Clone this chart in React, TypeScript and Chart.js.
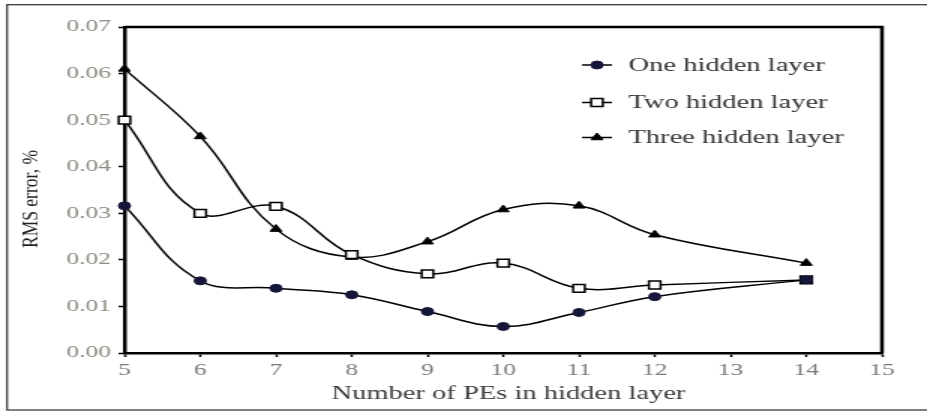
import React, { useEffect, useRef } from 'react';
import { Chart, registerables } from 'chart.js';
import { drawPoint } from 'chart.js/helpers';

Chart.register(...registerables);

// Number of processing elements in the hidden layer(s)
const peCounts = [5, 6, 7, 8, 9, 10, 11, 12, 14];

// RMS error (%) per network depth
const oneHidden = [0.0316, 0.0155, 0.0139, 0.0125, 0.0089, 0.0057, 0.0087, 0.0121, 0.0157];
const twoHidden = [0.05, 0.03, 0.0315, 0.0211, 0.017, 0.0193, 0.0139, 0.0146, 0.0157];
const threeHidden = [0.061, 0.0465, 0.0266, 0.0206, 0.0239, 0.0308, 0.0316, 0.0254, 0.0193];

const seriesNames = ['One hidden layer', 'Two hidden layer', 'Three hidden layer'];

const xTitle = 'Number of PEs in hidden layer';
const yTitle = 'RMS error, %';

// The drawing surface is rendered narrower and stretched to the page width.
const CANVAS_W = 618;
const CANVAS_H = 412;
const SHOWN_W = 927;

const SERIF = '"Liberation Serif", "Times New Roman", serif';

const toPoints = (ys: number[]) => peCounts.map((x, i) => ({ x, y: ys[i] }));

const decorations = {
  id: 'decorations',
  afterDraw(chart: any) {
    const { ctx, chartArea: a } = chart;
    ctx.save();

    // outer frame
    ctx.strokeStyle = '#3c3c3c';
    ctx.lineWidth = 1.3;
    ctx.strokeRect(4.7, 4.7, 700, 405.3);

    // top and right edges of the plot box
    ctx.strokeStyle = '#000';
    ctx.lineWidth = 2.5;
    ctx.beginPath();
    ctx.moveTo(a.left, a.top);
    ctx.lineTo(a.right, a.top);
    ctx.lineTo(a.right, a.bottom);
    ctx.stroke();

    // legend inside the plot
    const rows = [65, 102.5, 137.5];
    chart.data.datasets.forEach((ds: any, i: number) => {
      const y = rows[i];
      ctx.strokeStyle = '#000';
      ctx.lineWidth = 1.5;
      ctx.beginPath();
      ctx.moveTo(388, y);
      ctx.lineTo(408, y);
      ctx.stroke();
      ctx.fillStyle = ds.pointBackgroundColor;
      ctx.strokeStyle = ds.pointBorderColor;
      ctx.lineWidth = ds.pointBorderWidth;
      drawPoint(ctx, { pointStyle: ds.pointStyle, radius: ds.pointRadius, rotation: 0, borderWidth: ds.pointBorderWidth }, 398, y);
      ctx.fillStyle = '#333';
      ctx.font = `19px ${SERIF}`;
      ctx.textAlign = 'left';
      ctx.textBaseline = 'middle';
      ctx.fillText(ds.label, 419, y + 1);
    });

    // x axis title
    ctx.fillStyle = '#3a3a3a';
    ctx.font = `19px ${SERIF}`;
    ctx.textAlign = 'center';
    ctx.textBaseline = 'alphabetic';
    ctx.fillText(xTitle, 339, 399);

    // y axis title
    ctx.save();
    ctx.translate(24.5, 199);
    ctx.rotate(-Math.PI / 2);
    ctx.scale(1.25, 1);
    ctx.fillStyle = '#1e1e1e';
    ctx.font = `14px ${SERIF}`;
    ctx.textAlign = 'center';
    ctx.textBaseline = 'alphabetic';
    ctx.fillText(yTitle, 0, 0);
    ctx.restore();

    ctx.restore();
  },
};

export default function App() {
  const canvasRef = useRef<HTMLCanvasElement | null>(null);

  useEffect(() => {
    const canvas = canvasRef.current;
    if (!canvas) return;

    const common = {
      borderColor: '#000',
      borderWidth: 1.5,
      tension: 0.4,
      fill: false,
      clip: false as any,
      pointBorderColor: '#000',
    };

    const chart = new Chart(canvas, {
      type: 'line',
      data: {
        datasets: [
          {
            ...common,
            label: seriesNames[0],
            data: toPoints(oneHidden),
            pointStyle: 'circle',
            pointRadius: 4,
            pointBackgroundColor: '#16163a',
            pointBorderColor: '#16163a',
            pointBorderWidth: 1,
          },
          {
            ...common,
            label: seriesNames[1],
            data: toPoints(twoHidden),
            pointStyle: 'rect',
            pointRadius: 5.5,
            pointBackgroundColor: '#fff',
            pointBorderWidth: 1.5,
          },
          {
            ...common,
            label: seriesNames[2],
            data: toPoints(threeHidden),
            pointStyle: 'triangle',
            pointRadius: 4.5,
            pointBackgroundColor: '#000',
            pointBorderWidth: 1,
          },
        ] as any,
      },
      options: {
        responsive: false,
        animation: false,
        devicePixelRatio: 1,
        layout: { padding: { top: 27, right: 30, left: 0, bottom: 0 } },
        plugins: {
          legend: { display: false },
          tooltip: { enabled: false },
        },
        scales: {
          x: {
            type: 'linear',
            min: 5,
            max: 15,
            afterFit: (s: any) => {
              s.height = 59;
            },
            ticks: {
              stepSize: 1,
              padding: 3,
              color: '#7a7a7a',
              font: { family: SERIF, size: 17 },
            },
            grid: {
              drawOnChartArea: false,
              drawTicks: true,
              tickLength: 4,
              tickWidth: 1.5,
              tickColor: '#000',
            },
            border: { display: true, color: '#000', width: 2.5 },
          },
          y: {
            type: 'linear',
            min: 0,
            max: 0.07,
            afterFit: (s: any) => {
              s.width = 83;
            },
            ticks: {
              stepSize: 0.01,
              padding: 5,
              color: '#8a8d80',
              font: { family: SERIF, size: 17 },
              callback: (v: any) => Number(v).toFixed(2),
            },
            grid: {
              drawOnChartArea: false,
              drawTicks: true,
              tickLength: 4,
              tickWidth: 1.5,
              tickColor: '#000',
            },
            border: { display: true, color: '#000', width: 2.5 },
          },
        },
      } as any,
      plugins: [decorations],
    });

    return () => chart.destroy();
  }, []);

  return (
    <div
      style={{
        position: 'fixed',
        left: 0,
        top: 0,
        width: SHOWN_W,
        height: CANVAS_H,
        background: '#fff',
      }}
    >
      <canvas
        ref={canvasRef}
        width={CANVAS_W}
        height={CANVAS_H}
        style={{ width: `${SHOWN_W}px`, height: `${CANVAS_H}px`, display: 'block' }}
      />
    </div>
  );
}
